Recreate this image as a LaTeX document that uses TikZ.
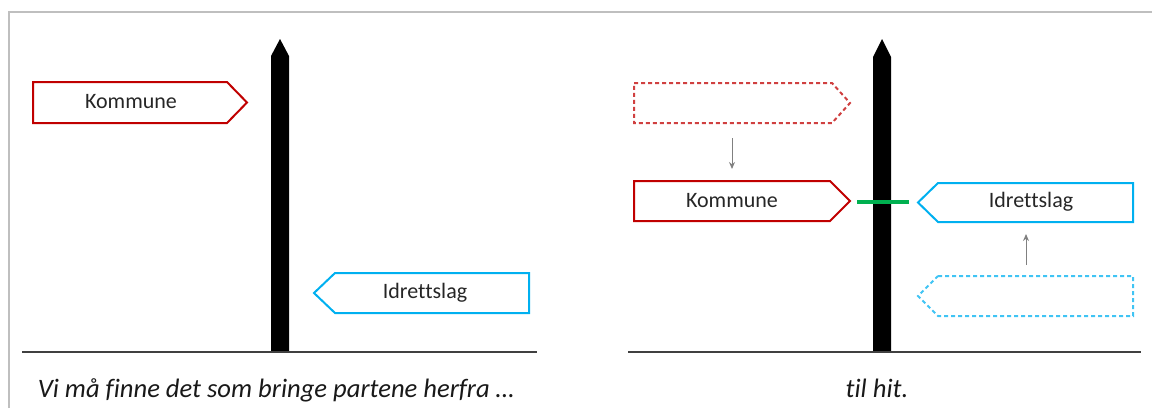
\documentclass[tikz,border=0pt]{standalone}
\usepackage{fontspec}
\setmainfont[Ligatures={NoCommon}]{Carlito}
\usetikzlibrary{arrows.meta}
\definecolor{signred}{HTML}{C00000}
\definecolor{signblue}{HTML}{00B0F0}
\definecolor{linkgreen}{HTML}{00B050}
\definecolor{groundgray}{HTML}{404040}
\definecolor{framegray}{HTML}{BFBFBF}
\tikzset{
  signline/.style={line width=1pt, line join=miter},
  ghost/.style={signline, dash pattern=on 2pt off 1.5pt, draw opacity=0.75},
  signtext/.style={font=\fontsize{11}{13}\selectfont, text=black!85, inner sep=0pt},
  caption/.style={font=\fontsize{13.3}{15}\selectfont\itshape, text=black!90, inner sep=0pt},
  ground/.style={draw=groundgray, line width=1pt},
  movearrow/.style={draw=gray, line width=0.5pt, -{Stealth[length=3.5pt,width=3pt]}},
}
% sign pointing right: left x, shoulder x, tip x, top y, bottom y
\newcommand\signRight[6]{%
  \draw[#1] (#2,#5) -- (#3,#5) -- (#4,{(#5+#6)/2}) -- (#3,#6) -- (#2,#6) -- cycle;}
% sign pointing left: tip x, shoulder x, right x, top y, bottom y
\newcommand\signLeft[6]{%
  \draw[#1] (#3,#5) -- (#4,#5) -- (#4,#6) -- (#3,#6) -- (#2,{(#5+#6)/2}) -- cycle;}
% post: left x, right x, shoulder y, tip y, foot y
\newcommand\post[5]{%
  \fill[black] (#1,#5) -- (#1,#3) -- ({(#1+#2)/2},#4) -- (#2,#3) -- (#2,#5) -- cycle;}
\begin{document}
\begin{tikzpicture}[x=0.5pt,y=-0.5pt]
\useasboundingbox (0,0) rectangle (1152,408);
% outer frame (top and left edges)
\draw[framegray, line width=1pt] (8.5,408) -- (8.5,11.5) -- (1152,11.5);

% ---------- left panel: the two parties apart ----------
\post{271}{289}{56}{39}{352}
\draw[ground] (22,352) -- (537,352);
\signRight{signline, draw=signred}{33}{227}{247}{82}{123}
\node[signtext] (kommuneA) at (131,102) {Kommune};
\signLeft{signline, draw=signblue}{314}{335}{529}{273}{313}
\node[signtext] (idrettA) at (425,293) {Idrettslag};
\node[caption, anchor=base] (capA) at (276,397) {Vi må finne det som bringe partene herfra …};

% ---------- right panel: the two parties joined ----------
\post{873}{891}{57}{39}{352}
\draw[ground] (628,352) -- (1141,352);
% former positions
\signRight{ghost, draw=signred}{634}{832}{850}{83}{123}
\signLeft{ghost, draw=signblue}{918}{938}{1133}{276}{316}
% new positions
\signRight{signline, draw=signred}{634}{830}{850}{181}{221}
\node[signtext] (kommuneB) at (732,201) {Kommune};
\signLeft{signline, draw=signblue}{918}{938}{1133}{183}{222}
\node[signtext] (idrettB) at (1031,202) {Idrettslag};
% link between the signs
\coordinate (linkL) at (857,202);
\coordinate (linkR) at (909,202);
\draw[linkgreen, line width=1.6pt] (linkL) -- (linkR);
% movement arrows
\coordinate (kFrom) at (732,138);
\coordinate (kTo) at (732,169);
\draw[movearrow] (kFrom) -- (kTo);
\coordinate (iFrom) at (1026,265);
\coordinate (iTo) at (1026,234);
\draw[movearrow] (iFrom) -- (iTo);
\node[caption, anchor=base] (capB) at (877,397) {til hit.};
\end{tikzpicture}
\end{document}
